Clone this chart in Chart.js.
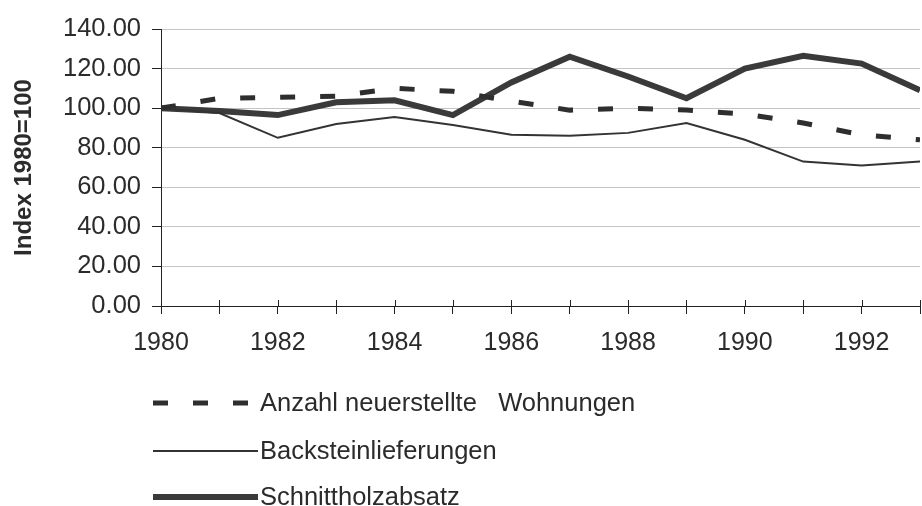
<!DOCTYPE html>
<html>
<head>
<meta charset="utf-8">
<script src="https://cdn.jsdelivr.net/npm/chart.js@4.4.1/dist/chart.umd.min.js"></script>
<style>
  html, body { margin: 0; padding: 0; background: #fff; }
  #wrap { width: 922px; height: 506px; }
</style>
</head>
<body>
<div id="wrap"><canvas id="chart" width="922" height="506"></canvas></div>
<script>
// values (index 1980 = 100)
var years = [1980, 1981, 1982, 1983, 1984, 1985, 1986, 1987, 1988, 1989, 1990, 1991, 1992, 1993];
var wohnungen = [100, 105, 105.5, 106, 110, 108.5, 103.5, 99, 100, 99, 97, 92.5, 86.5, 84];
var backstein = [100, 97.5, 85, 92, 95.5, 91.5, 86.5, 86, 87.5, 92.5, 84, 73, 71, 73];
var schnittholz = [100, 98.5, 96.5, 103, 104, 96.5, 113, 126, 116, 105, 120, 126.5, 122.5, 109];

var seriesLabels = ['Anzahl neuerstellte   Wohnungen', 'Backsteinlieferungen', 'Schnittholzabsatz'];
var yTitle = 'Index 1980=100';

function toPoints(vals) {
    return vals.map(function (v, i) { return { x: years[i], y: v }; });
}

var FONT = '"Liberation Sans", Arial, sans-serif';
var INK = '#2b2b2b';

// legend under the chart, one entry per row
var legendRows = {
    id: 'legendRows',
    afterDraw: function (chart) {
        var ctx = chart.ctx;
        var rowY = [403, 451, 497];
        ctx.save();
        chart.data.datasets.forEach(function (ds, i) {
            var y = rowY[i];
            ctx.strokeStyle = ds.borderColor;
            ctx.lineWidth = ds.borderWidth;
            ctx.setLineDash(ds.borderDash || []);
            ctx.lineDashOffset = 0;
            ctx.beginPath();
            ctx.moveTo(153, y);
            ctx.lineTo(i === 0 ? 249 : 258, y);
            ctx.stroke();
            ctx.setLineDash([]);
            ctx.fillStyle = INK;
            ctx.font = '25.5px ' + FONT;
            ctx.textBaseline = 'middle';
            ctx.fillText(ds.label, 260, y + 1);
        });
        ctx.restore();
    }
};

// x ticks cross the axis: add the little part above the line
var crossTicks = {
    id: 'crossTicks',
    afterDraw: function (chart) {
        var ctx = chart.ctx, xs = chart.scales.x, bottom = chart.chartArea.bottom;
        ctx.save();
        ctx.strokeStyle = '#222';
        ctx.lineWidth = 1;
        xs.ticks.forEach(function (t) {
            var px = Math.round(xs.getPixelForValue(t.value)) + 0.5;
            ctx.beginPath();
            ctx.moveTo(px, bottom - 6);
            ctx.lineTo(px, bottom);
            ctx.stroke();
        });
        ctx.restore();
    }
};

var whiteBg = {
    id: 'whiteBg',
    beforeDraw: function (chart) {
        var ctx = chart.ctx;
        ctx.save();
        ctx.fillStyle = '#fff';
        ctx.fillRect(0, 0, chart.width, chart.height);
        ctx.restore();
    }
};

var ctx = document.getElementById('chart');
var graph = new Chart(ctx, {
    type: 'line',
    data: {
        datasets: [
            {
                label: seriesLabels[0],
                data: toPoints(wohnungen),
                borderColor: '#2e2e2e',
                borderWidth: 5,
                borderDash: [15, 25],
                pointRadius: 0,
                tension: 0,
                fill: false
            },
            {
                label: seriesLabels[1],
                data: toPoints(backstein),
                borderColor: '#333',
                borderWidth: 2,
                pointRadius: 0,
                tension: 0,
                fill: false
            },
            {
                label: seriesLabels[2],
                data: toPoints(schnittholz),
                borderColor: '#3a3a3a',
                borderWidth: 6,
                pointRadius: 0,
                tension: 0,
                fill: false
            }
        ]
    },
    options: {
        responsive: false,
        animation: false,
        layout: { padding: { top: 29, right: 2, bottom: 0, left: 0 } },
        plugins: {
            legend: { display: false },
            tooltip: { enabled: false }
        },
        scales: {
            x: {
                type: 'linear',
                min: 1980,
                max: 1993,
                afterFit: function (scale) {
                    scale.height = 200;
                    scale.paddingRight = 0;
                    scale.paddingLeft = 0;
                },
                border: { color: '#222', width: 1 },
                grid: { drawOnChartArea: false, drawTicks: true, tickLength: 8, tickColor: '#222' },
                ticks: {
                    stepSize: 1,
                    autoSkip: false,
                    maxRotation: 0,
                    padding: 14,
                    color: INK,
                    font: { family: FONT, size: 25 },
                    callback: function (v) { return v % 2 === 0 ? String(v) : ''; }
                }
            },
            y: {
                min: 0,
                max: 140,
                afterFit: function (scale) { scale.width = 161; },
                border: { color: '#222', width: 1 },
                grid: { color: '#c4c4c4', lineWidth: 1, drawTicks: true, tickLength: 9, tickColor: '#222' },
                ticks: {
                    stepSize: 20,
                    padding: 11,
                    color: INK,
                    font: { family: FONT, size: 25.5 },
                    callback: function (v) { return v.toFixed(2); }
                },
                title: {
                    display: true,
                    text: yTitle,
                    color: INK,
                    padding: { top: 10, bottom: 0 },
                    font: { family: FONT, size: 24, weight: 'bold' }
                }
            }
        }
    },
    plugins: [whiteBg, crossTicks, legendRows]
});
</script>
</body>
</html>
